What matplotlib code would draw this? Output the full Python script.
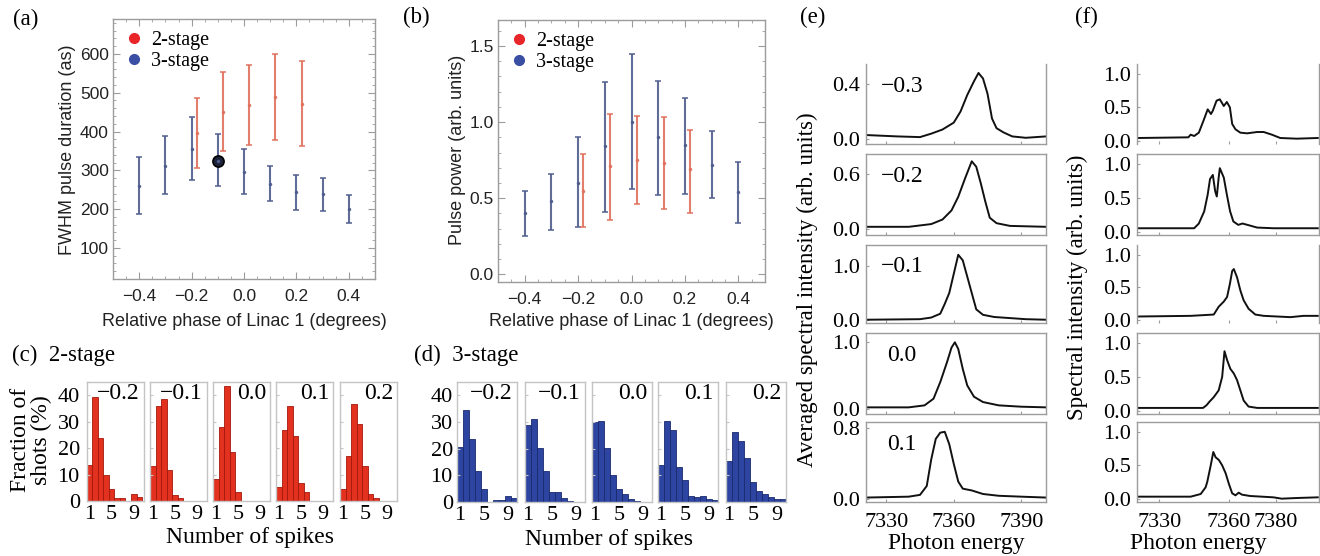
import matplotlib.pyplot as plt
import numpy as np
from matplotlib.lines import Line2D
from matplotlib.ticker import MultipleLocator

plt.rcParams['font.family'] = ['Liberation Serif', 'DejaVu Serif']
SANS = ['Liberation Sans', 'DejaVu Sans']

# ---------------- data ----------------
# (a) FWHM pulse duration (as)
phase_3 = [-0.4, -0.3, -0.2, -0.1, 0.0, 0.1, 0.2, 0.3, 0.4]
dur_3 = [260, 312, 356, 324, 297, 266, 243, 238, 201]
dur_3_lo = [187, 239, 276, 259, 240, 221, 197, 194, 165]
dur_3_hi = [334, 388, 438, 393, 354, 311, 289, 281, 237]
phase_2 = [-0.18, -0.08, 0.02, 0.12, 0.22]
dur_2 = [396, 451, 468, 488, 470]
dur_2_lo = [307, 351, 366, 377, 362]
dur_2_hi = [486, 553, 572, 600, 581]
marked_phase = [-0.1]
marked_dur = [325]

# (b) pulse power (arb. units)
pow_3 = [0.40, 0.48, 0.60, 0.84, 1.00, 0.90, 0.85, 0.72, 0.54]
pow_3_lo = [0.25, 0.29, 0.31, 0.41, 0.56, 0.52, 0.53, 0.50, 0.34]
pow_3_hi = [0.55, 0.66, 0.90, 1.26, 1.45, 1.27, 1.16, 0.94, 0.74]
pow_2 = [0.55, 0.71, 0.75, 0.73, 0.69]
pow_2_lo = [0.31, 0.36, 0.46, 0.43, 0.40]
pow_2_hi = [0.79, 1.05, 1.04, 1.03, 0.95]

# (c), (d) spike histograms (% of shots)
spike_bins = [1, 2, 3, 4, 5, 6, 7, 8, 9, 10]
hist_phases = ['\u22120.2', '\u22120.1', '0.0', '0.1', '0.2']
hist2_m02 = [13.7, 39.3, 24.0, 10.0, 4.4, 1.1, 1.1, 0, 2.6, 1.5]
hist2_m01 = [13.2, 36.0, 38.5, 11.9, 2.1, 1.1, 0, 0, 0, 0]
hist2_00 = [8.5, 28.0, 43.4, 18.5, 3.4, 0, 0, 0, 0, 0]
hist2_01 = [5.3, 26.8, 36.0, 24.5, 6.9, 3.4, 0, 0, 0, 0]
hist2_02 = [4.4, 16.9, 36.5, 29.0, 13.1, 2.5, 1.1, 0, 0, 0]
hist3_m02 = [20.6, 34.6, 23.5, 11.5, 4.9, 0, 0.6, 0.6, 2.1, 1.5]
hist3_m01 = [29.0, 31.2, 20.4, 11.5, 3.7, 3.7, 1.6, 0.2, 0, 0]
hist3_00 = [29.9, 30.2, 20.4, 10.2, 4.9, 3.1, 1.2, 0.4, 0, 0]
hist3_01 = [13.8, 30.2, 26.9, 13.2, 8.4, 2.1, 1.9, 2.2, 1.2, 0.6]
hist3_02 = [15.4, 26.3, 22.8, 16.4, 7.4, 4.1, 3.1, 1.9, 1.0, 1.2]

# (e) averaged spectra
e_labels = ['\u22120.3', '\u22120.2', '\u22120.1', '0.0', '0.1']
e_energy_1 = [7321, 7335, 7345, 7350, 7355, 7360, 7363, 7366, 7369, 7371, 7373, 7375, 7377, 7379, 7382, 7386, 7392, 7401]
e_int_1 = [0.03, 0.02, 0.015, 0.04, 0.07, 0.12, 0.20, 0.32, 0.42, 0.48, 0.44, 0.33, 0.15, 0.08, 0.05, 0.02, 0.01, 0.02]
e_energy_2 = [7321, 7340, 7350, 7355, 7359, 7362, 7365, 7368, 7370, 7372, 7374, 7376, 7379, 7385, 7401]
e_int_2 = [0.02, 0.02, 0.05, 0.10, 0.20, 0.35, 0.55, 0.74, 0.68, 0.50, 0.30, 0.12, 0.06, 0.03, 0.02]
e_energy_3 = [7321, 7345, 7350, 7354, 7356, 7358, 7360, 7362, 7364, 7366, 7368, 7370, 7373, 7378, 7385, 7392, 7401]
e_int_3 = [0.01, 0.02, 0.05, 0.12, 0.30, 0.50, 0.85, 1.20, 1.10, 0.80, 0.50, 0.20, 0.10, 0.06, 0.04, 0.02, 0.01]
e_energy_4 = [7321, 7340, 7347, 7351, 7354, 7357, 7359, 7360.5, 7362, 7364, 7366, 7369, 7373, 7380, 7390, 7401]
e_int_4 = [0.02, 0.02, 0.05, 0.15, 0.40, 0.70, 0.92, 1.00, 0.90, 0.60, 0.35, 0.18, 0.10, 0.05, 0.03, 0.02]
e_energy_5 = [7321, 7340, 7345, 7348, 7350, 7352, 7354, 7356, 7358, 7360, 7362, 7364, 7368, 7373, 7380, 7390, 7401]
e_int_5 = [0.02, 0.03, 0.05, 0.15, 0.45, 0.68, 0.75, 0.76, 0.62, 0.40, 0.20, 0.12, 0.10, 0.06, 0.04, 0.03, 0.02]

# (f) single-shot spectra
f_energy_1 = [7321, 7342.5, 7343.5, 7345, 7347, 7349, 7350.8, 7352.2, 7353, 7354.6, 7356, 7357.7, 7359, 7360.3, 7361.3, 7362.7, 7364.8, 7367.7, 7372, 7374.8, 7378.3, 7381.9, 7389, 7398]
f_int_1 = [0.04, 0.05, 0.09, 0.07, 0.12, 0.30, 0.47, 0.40, 0.45, 0.60, 0.62, 0.52, 0.58, 0.50, 0.25, 0.17, 0.12, 0.11, 0.13, 0.13, 0.09, 0.04, 0.03, 0.04]
f_energy_2 = [7321, 7345, 7347, 7349.3, 7350.8, 7351.8, 7353, 7354, 7354.7, 7355.5, 7356, 7357.7, 7359, 7360.4, 7361.8, 7363.9, 7365.7, 7368.9, 7372, 7379, 7398]
f_int_2 = [0.05, 0.05, 0.12, 0.30, 0.55, 0.78, 0.84, 0.60, 0.52, 0.80, 0.94, 0.80, 0.55, 0.30, 0.15, 0.10, 0.12, 0.09, 0.06, 0.05, 0.05]
f_energy_3 = [7321, 7343.5, 7353.4, 7355.5, 7357.7, 7359.1, 7360.3, 7361.3, 7362, 7363.4, 7364.8, 7366.2, 7368.3, 7371.2, 7374.8, 7386.2, 7391.9, 7398]
f_int_3 = [0.05, 0.06, 0.08, 0.20, 0.28, 0.35, 0.55, 0.75, 0.78, 0.65, 0.45, 0.30, 0.17, 0.08, 0.06, 0.04, 0.06, 0.06]
f_energy_4 = [7321, 7348.8, 7350.3, 7351.5, 7353.4, 7355.5, 7357, 7358, 7359.1, 7360.5, 7362, 7363.4, 7364.8, 7366.2, 7368.3, 7372, 7398]
f_int_4 = [0.04, 0.04, 0.08, 0.13, 0.20, 0.30, 0.50, 0.88, 0.75, 0.62, 0.55, 0.45, 0.30, 0.15, 0.06, 0.04, 0.04]
f_energy_5 = [7321, 7343.5, 7347.8, 7349.9, 7350.6, 7352.1, 7353.2, 7354.2, 7355.6, 7357, 7358.5, 7359.9, 7361.3, 7362.7, 7364.1, 7365.5, 7369, 7379, 7382.5, 7389, 7398]
f_int_5 = [0.03, 0.03, 0.07, 0.17, 0.25, 0.50, 0.70, 0.62, 0.58, 0.50, 0.38, 0.22, 0.08, 0.05, 0.09, 0.06, 0.04, 0.02, 0.00, 0.01, 0.02]

# ---------------- figure ----------------
W, H = 1320, 556
fig = plt.figure(figsize=(W / 100, H / 100), dpi=100)
FRAME = '#9c9c9c'
RED_ERR = '#e0705c'
BLUE_ERR = '#4f5d8e'


def add_ax(l, t, r, b):
    return fig.add_axes([l / W, 1 - b / H, (r - l) / W, (b - t) / H])


def fig_text(x, y, s, **kw):
    fig.text(x / W, 1 - y / H, s, **kw)


def gray_frame(ax):
    for s in ax.spines.values():
        s.set_color(FRAME)
        s.set_linewidth(1.0)


# -------- (a) and (b) --------
def phase_panel(ax, y3, lo3, hi3, y2, lo2, hi2):
    gray_frame(ax)
    ax.errorbar(phase_3, y3, yerr=[np.subtract(y3, lo3), np.subtract(hi3, y3)],
                fmt='.', color=BLUE_ERR, ms=3, lw=1.5, capsize=2.5, capthick=1.2, alpha=0.9)
    ax.errorbar(phase_2, y2, yerr=[np.subtract(y2, lo2), np.subtract(hi2, y2)],
                fmt='.', color=RED_ERR, ms=3, lw=1.5, capsize=2.5, capthick=1.2, alpha=0.9)
    ax.set_xlim(-0.5, 0.5)
    ax.set_xticks([-0.4, -0.2, 0.0, 0.2, 0.4])
    ax.xaxis.set_minor_locator(MultipleLocator(0.05))
    ax.tick_params(which='both', direction='in', top=True, right=True, color=FRAME,
                   labelsize=12.5, labelcolor='#222')
    ax.tick_params(which='major', length=5)
    ax.tick_params(which='minor', length=2.5)
    ax.tick_params(axis='x', pad=7)
    ax.tick_params(axis='y', pad=3)
    for lab in ax.get_xticklabels() + ax.get_yticklabels():
        lab.set_family(SANS)
    handles = [Line2D([], [], marker='o', ls='', color='#e8262a', ms=7),
               Line2D([], [], marker='o', ls='', color='#3a4ea3', ms=7)]
    ax.legend(handles, ['2-stage', '3-stage'], loc='upper left', frameon=False,
              prop={'family': 'Liberation Serif', 'size': 14.5}, handletextpad=0.4,
              labelspacing=0.1, borderaxespad=0.3, handlelength=0.9, borderpad=0.3)


ax_a = add_ax(113, 19, 375, 279)
phase_panel(ax_a, dur_3, dur_3_lo, dur_3_hi, dur_2, dur_2_lo, dur_2_hi)
ax_a.plot(marked_phase, marked_dur, 'o', ms=8, mfc='#1c2238', mec='black', mew=1.2)
ax_a.set_ylim(20, 690)
ax_a.set_yticks([100, 200, 300, 400, 500, 600])
ax_a.yaxis.set_minor_locator(MultipleLocator(20))

ax_b = add_ax(498, 20, 765, 282)
phase_panel(ax_b, pow_3, pow_3_lo, pow_3_hi, pow_2, pow_2_lo, pow_2_hi)
ax_b.set_ylim(-0.05, 1.67)
ax_b.set_yticks([0.0, 0.5, 1.0, 1.5])
ax_b.yaxis.set_minor_locator(MultipleLocator(0.1))

fig_text(244, 322, 'Relative phase of Linac 1 (degrees)', family=SANS, size=13,
         color='#222', ha='center', va='center')
fig_text(631, 322, 'Relative phase of Linac 1 (degrees)', family=SANS, size=13,
         color='#222', ha='center', va='center')
fig_text(67, 150, 'FWHM pulse duration (as)', family=SANS, size=13, color='#222',
         ha='center', va='center', rotation=90)
fig_text(457, 150, 'Pulse power (arb. units)', family=SANS, size=13, color='#222',
         ha='center', va='center', rotation=90)

# -------- (c) and (d) --------
def hist_row(lefts, width, top, bottom, hists, face, edge, xmax, ypad):
    for i, (left, h) in enumerate(zip(lefts, hists)):
        ax = add_ax(left, top, left + width, bottom)
        for s in ax.spines.values():
            s.set_color('#c4c4c4')
            s.set_linewidth(1.0)
        ax.bar(spike_bins, h, width=1, align='edge', color=face, edgecolor=edge, lw=0.6)
        ax.set_xlim(1, xmax)
        ax.set_ylim(0, 45)
        ax.set_xticks([1.5, 5.5, 9.5])
        ax.set_xticklabels(['1', '5', '9'])
        ax.set_yticks([0, 10, 20, 30, 40])
        ax.tick_params(axis='x', length=0, pad=3, labelsize=16)
        ax.tick_params(axis='y', direction='in', length=2.5, color='#c4c4c4',
                       pad=ypad, labelsize=16)
        if i > 0:
            ax.set_yticklabels([])
        ax.text(0.93, 0.99, hist_phases[i], transform=ax.transAxes, ha='right',
                va='top', size=17)


hist_row([86.7, 150, 213, 276, 340], 57, 382, 501, [hist2_m02, hist2_m01, hist2_00, hist2_01, hist2_02],
         '#e2311f', '#a3180c', 11.3, 5)
hist_row([457, 525, 592, 658, 726], 60, 382, 502, [hist3_m02, hist3_m01, hist3_00, hist3_01, hist3_02],
         '#2d44a0', '#1b2a6c', 11.0, 3)

fig_text(12, 355, '(c)  2-stage', size=16.5, ha='left', va='center')
fig_text(414, 355, '(d)  3-stage', size=16.5, ha='left', va='center')
fig_text(31, 440, 'Fraction of\nshots (%)', size=17, ha='center', va='center',
         rotation=90, linespacing=1.0)
fig_text(250, 537, 'Number of spikes', size=17, ha='center', va='center')
fig_text(609, 539, 'Number of spikes', size=17, ha='center', va='center')

# -------- (e) and (f) --------
row_px = [(64, 144), (154, 235), (245, 323), (333, 414), (422, 502)]

e_curves = [(e_energy_1, e_int_1), (e_energy_2, e_int_2), (e_energy_3, e_int_3),
            (e_energy_4, e_int_4), (e_energy_5, e_int_5)]
e_ylims = [(-0.035, 0.545), (-0.07, 0.82), (-0.05, 1.38), (-0.08, 1.14), (-0.03, 0.87)]
e_yticks = [[0.0, 0.4], [0.0, 0.6], [0.0, 1.0], [0.0, 1.0], [0.0, 0.8]]

f_curves = [(f_energy_1, f_int_1), (f_energy_2, f_int_2), (f_energy_3, f_int_3),
            (f_energy_4, f_int_4), (f_energy_5, f_int_5)]


def spec_axes(i, left, right, curve, ylim, yticks, xlim, xticks, hide):
    t, b = row_px[i]
    ax = add_ax(left, t, right, b)
    gray_frame(ax)
    for s in hide:
        ax.spines[s].set_visible(False)
    ax.plot(curve[0], curve[1], color='#111111', lw=1.4)
    ax.set_xlim(*xlim)
    ax.set_ylim(*ylim)
    ax.set_yticks(yticks)
    ax.set_yticklabels(['%.1f' % v for v in yticks])
    ax.set_xticks(xticks)
    ax.tick_params(which='both', direction='in', color=FRAME, length=2.5, labelsize=16, pad=4)
    ax.tick_params(axis='x', pad=8)
    if i < 4:
        ax.set_xticklabels([])
    return ax


for i in range(5):
    ax = spec_axes(i, 866, 1046, e_curves[i], e_ylims[i], e_yticks[i], (7321, 7401),
                   [7330, 7360, 7390], ['top'] if i == 0 else [])
    x_txt = 0.08 if e_labels[i].startswith('\u2212') else 0.12
    ax.text(x_txt, 0.72, e_labels[i], transform=ax.transAxes, ha='left', va='center', size=17)

for i in range(5):
    spec_axes(i, 1137, 1319, f_curves[i], (-0.05, 1.15), [0.0, 0.5, 1.0], (7320.5, 7398.5),
              [7330, 7360, 7380], ['top', 'bottom'] if i in (0, 2) else [])

fig_text(807, 290, 'Averaged spectral intensity (arb. units)', size=16.5, ha='center',
         va='center', rotation=90)
fig_text(1077, 287, 'Spectral intensity (arb. units)', size=16.5, ha='center',
         va='center', rotation=90)
fig_text(956, 543, 'Photon energy', size=17, ha='center', va='center')
fig_text(1198, 543, 'Photon energy', size=17, ha='center', va='center')

# panel letters
fig_text(13, 19, '(a)', size=16.5, ha='left', va='center')
fig_text(403, 17, '(b)', size=16.5, ha='left', va='center')
fig_text(800, 17, '(e)', size=16.5, ha='left', va='center')
fig_text(1075, 17, '(f)', size=16.5, ha='left', va='center')

plt.savefig('out.png', dpi=100)
plt.close()
